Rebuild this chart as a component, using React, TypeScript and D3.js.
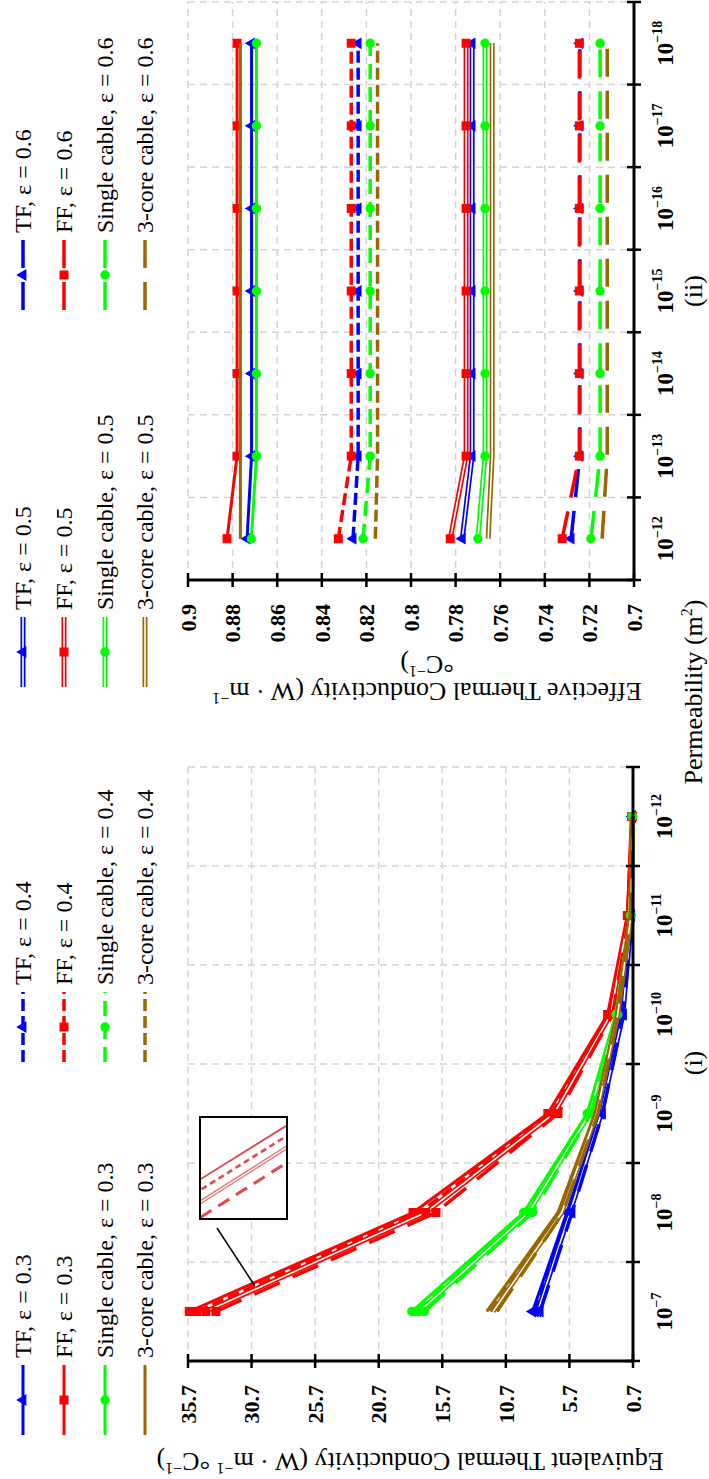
import React from 'react';
import * as d3 from 'd3';

// page is portrait; the figure itself is drawn landscape (1479 x 709) and turned 90° anticlockwise
const PAGE_W = 709;
const PAGE_H = 1479;

const epsilons = [0.3, 0.4, 0.5, 0.6];
const cableTypes = ['TF', 'FF', 'Single cable', '3-core cable'];
const cableColors = ['#0000ff', '#ff0000', '#00ff00', '#996600'];
const cableMarkers = ['triangle', 'square', 'circle', 'none'];

// permeability categories (exponent of 10, m^2)
const equivExponents = [-7, -8, -9, -10, -11, -12];
const effExponents = [-12, -13, -14, -15, -16, -17, -18];

const equivTicks = [0.7, 5.7, 10.7, 15.7, 20.7, 25.7, 30.7, 35.7];
const effTicks = [0.7, 0.72, 0.74, 0.76, 0.78, 0.8, 0.82, 0.84, 0.86, 0.88, 0.9];

// (i) equivalent thermal conductivity, one row per epsilon 0.3 .. 0.6
const tfEquiv = [
  [8.6, 5.9, 3.3, 1.6, 0.85, 0.75],
  [8.4, 5.8, 3.25, 1.55, 0.83, 0.74],
  [8.2, 5.65, 3.2, 1.5, 0.81, 0.73],
  [8.0, 5.5, 3.1, 1.45, 0.8, 0.72],
];
const ffEquiv = [
  [35.6, 18.0, 7.4, 2.7, 1.15, 0.78],
  [35.0, 17.5, 7.1, 2.55, 1.1, 0.77],
  [34.3, 17.0, 6.9, 2.45, 1.05, 0.76],
  [33.5, 16.2, 6.6, 2.3, 1.0, 0.75],
];
const singleEquiv = [
  [18.1, 9.3, 4.3, 2.05, 0.9, 0.76],
  [17.8, 9.1, 4.2, 2.0, 0.88, 0.75],
  [17.5, 8.9, 4.1, 1.95, 0.86, 0.74],
  [17.1, 8.6, 4.0, 1.9, 0.84, 0.73],
];
const threeCoreEquiv = [
  [12.2, 6.6, 3.7, 2.0, 0.9, 0.75],
  [11.9, 6.5, 3.6, 1.95, 0.88, 0.74],
  [11.7, 6.3, 3.55, 1.9, 0.86, 0.73],
  [11.4, 6.2, 3.45, 1.85, 0.84, 0.72],
];

// (ii) effective thermal conductivity, one row per epsilon 0.3 .. 0.6
const tfEff = [
  [0.8735, 0.8715, 0.8715, 0.8715, 0.8715, 0.8715, 0.8715],
  [0.826, 0.8237, 0.8237, 0.8237, 0.8237, 0.8237, 0.8237],
  [0.777, 0.7726, 0.7726, 0.7726, 0.7726, 0.7726, 0.7726],
  [0.7282, 0.7243, 0.7243, 0.7243, 0.7243, 0.7243, 0.7243],
];
const ffEff = [
  [0.8825, 0.878, 0.878, 0.878, 0.878, 0.878, 0.878],
  [0.8326, 0.8268, 0.8268, 0.8268, 0.8268, 0.8268, 0.8268],
  [0.7824, 0.7753, 0.7753, 0.7753, 0.7753, 0.7753, 0.7753],
  [0.7322, 0.7245, 0.7245, 0.7245, 0.7245, 0.7245, 0.7245],
];
const singleEff = [
  [0.8716, 0.8693, 0.8693, 0.8693, 0.8693, 0.8693, 0.8693],
  [0.8215, 0.8183, 0.8183, 0.8183, 0.8183, 0.8183, 0.8183],
  [0.770, 0.7668, 0.7668, 0.7668, 0.7668, 0.7668, 0.7668],
  [0.7193, 0.7152, 0.7152, 0.7152, 0.7152, 0.7152, 0.7152],
];
const threeCoreEff = [
  [0.8765, 0.8765, 0.8765, 0.8765, 0.8765, 0.8765, 0.8765],
  [0.816, 0.815, 0.815, 0.815, 0.815, 0.815, 0.815],
  [0.7654, 0.7636, 0.7636, 0.7636, 0.7636, 0.7636, 0.7636],
  [0.7143, 0.712, 0.712, 0.712, 0.712, 0.712, 0.712],
];

const FONT = "'Liberation Serif', 'Times New Roman', serif";
const GRID = '#d4d4d4';

// line look per epsilon: solid, short dash, double line, long dash
const epsStyles = [
  { width: 3, dash: '', double: false },
  { width: 3.5, dash: '12,5', double: false },
  { width: 5, dash: '', double: true },
  { width: 3.5, dash: '28,14', double: false },
];

function dashFor(ti: number, ei: number) {
  if (ei === 1 && ti === 2) return '15,8'; // green dashes are a bit longer
  return epsStyles[ei].dash;
}

function StyledPath({ d, color, ti, ei }: any) {
  const s = epsStyles[ei];
  if (s.double) {
    return (
      <g>
        <path d={d} fill="none" stroke={color} strokeWidth={s.width} strokeLinejoin="round" />
        <path d={d} fill="none" stroke="#fff" strokeWidth={1.6} strokeLinejoin="round" />
      </g>
    );
  }
  const dash = dashFor(ti, ei);
  return (
    <path d={d} fill="none" stroke={color} strokeWidth={s.width}
      strokeDasharray={dash || undefined} strokeLinejoin="round" />
  );
}

function Marker({ type, x, y, color }: any) {
  if (type === 'none') return null;
  const sym = type === 'triangle' ? d3.symbolTriangle : type === 'square' ? d3.symbolSquare : d3.symbolCircle;
  const size = type === 'triangle' ? 60 : type === 'square' ? 81 : 70;
  return <path d={d3.symbol(sym, size)() as string} transform={`translate(${x},${y})`} fill={color} />;
}

function Legend() {
  const cols = [44, 417, 792, 1169];
  const rows = [23, 64, 105, 145];
  const len = 70;
  return (
    <g>
      {epsilons.map((eps, ei) =>
        cableTypes.map((name, ti) => {
          const x0 = cols[ei];
          const y0 = rows[ti];
          const d = d3.line()([[x0, y0], [x0 + len, y0]]) as string;
          return (
            <g key={`${ei}-${ti}`}>
              <StyledPath d={d} color={cableColors[ti]} ti={ti} ei={ei} />
              <Marker type={cableMarkers[ti]} x={x0 + len / 2} y={y0} color={cableColors[ti]} />
              <text x={x0 + 77} y={y0 + 8} fontSize={24}>{`${name}, ε = ${eps}`}</text>
            </g>
          );
        })
      )}
    </g>
  );
}

function Panel({ exps, ticks, dataSets, left, right, top, bottom, children }: any) {
  const x = d3.scaleBand<number>().domain(exps).range([left, right]).padding(0);
  const y = d3.scaleLinear().domain([ticks[0], ticks[ticks.length - 1]]).range([bottom, top]);
  const px = (i: number) => (x(exps[i]) as number) + x.bandwidth() / 2;
  const line = d3.line<number>().x((_, i) => px(i)).y(v => y(v));
  const edges = exps.map((e: number) => x(e) as number).concat([right]);
  const fmt = (t: number) => String(+t.toFixed(2));

  return (
    <g>
      {ticks.slice(1).map((t: number) => (
        <line key={`gh${t}`} x1={left} x2={right} y1={y(t)} y2={y(t)}
          stroke={GRID} strokeWidth={1.5} strokeDasharray="7,5" />
      ))}
      {edges.slice(1).map((e: number) => (
        <line key={`gv${e}`} x1={e} x2={e} y1={top} y2={bottom}
          stroke={GRID} strokeWidth={1.5} strokeDasharray="7,5" />
      ))}

      {dataSets.map((rowsForType: number[][], ti: number) =>
        rowsForType.map((vals, ei) => (
          <g key={`s${ti}-${ei}`}>
            <StyledPath d={line(vals)} color={cableColors[ti]} ti={ti} ei={ei} />
            {vals.map((v, i) => (
              <Marker key={i} type={cableMarkers[ti]} x={px(i)} y={y(v)} color={cableColors[ti]} />
            ))}
          </g>
        ))
      )}

      {children && children({ x, y, px })}

      {/* axes */}
      <line x1={left} x2={right} y1={bottom} y2={bottom} stroke="#000" strokeWidth={3} />
      <line x1={left} x2={left} y1={top} y2={bottom} stroke="#000" strokeWidth={3} />
      {edges.map((e: number) => (
        <line key={`tx${e}`} x1={e} x2={e} y1={bottom - 7} y2={bottom + 7} stroke="#000" strokeWidth={2.5} />
      ))}
      {ticks.map((t: number) => (
        <line key={`ty${t}`} x1={left - 7} x2={left + 7} y1={y(t)} y2={y(t)} stroke="#000" strokeWidth={2.5} />
      ))}
      {ticks.map((t: number) => (
        <text key={`ly${t}`} x={left - 24} y={y(t)} dy="0.35em" textAnchor="end"
          fontWeight="bold" fontSize={22}>{fmt(t)}</text>
      ))}
      {exps.map((e: number, i: number) => (
        <text key={`lx${e}`} x={px(i)} y={bottom + 39} textAnchor="middle" fontWeight="bold" fontSize={23}>
          10<tspan dy={-11} fontSize={14}>{`−${-e}`}</tspan>
        </text>
      ))}
    </g>
  );
}

// magnified view of the FF lines between 1e-7 and 1e-8
function Inset({ x, y, px }: any) {
  const box = { x0: 260, x1: 362, y0: 200, y1: 287 };
  const xi = d3.scaleLinear().domain([0.2, 0.51]).range([box.x0, box.x1]);
  const yi = d3.scaleLinear().domain([27.07, 29.97]).range([box.y1, box.y0]);
  const col = '#e04a4c';
  const seg = (vals: number[]) =>
    d3.line<number>().x((_, i) => xi(i)).y(v => yi(v))([vals[0], vals[1]]) as string;
  const looks = [
    { w: 1.8, dash: '' },
    { w: 2.6, dash: '6,4' },
    { w: 4, dash: '', double: true },
    { w: 3, dash: '13,8' },
  ];
  const bw = x.bandwidth();
  const tPick = 0.26;
  const target = ffEquiv[1][0] + (ffEquiv[1][1] - ffEquiv[1][0]) * tPick;
  return (
    <g>
      <defs>
        <clipPath id="insetClip">
          <rect x={box.x0} y={box.y0} width={box.x1 - box.x0} height={box.y1 - box.y0} />
        </clipPath>
      </defs>
      <rect x={box.x0} y={box.y0} width={box.x1 - box.x0} height={box.y1 - box.y0} fill="#fff" />
      <g clipPath="url(#insetClip)">
        {ffEquiv.map((vals, ei) => {
          const l = looks[ei];
          const d = seg(vals);
          if (l.double) {
            return (
              <g key={ei}>
                <path d={d} fill="none" stroke={col} strokeWidth={l.w} opacity={0.75} />
                <path d={d} fill="none" stroke="#fff" strokeWidth={1.3} />
              </g>
            );
          }
          return <path key={ei} d={d} fill="none" stroke={col} strokeWidth={l.w} strokeDasharray={l.dash || undefined} />;
        })}
      </g>
      <rect x={box.x0} y={box.y0} width={box.x1 - box.x0} height={box.y1 - box.y0}
        fill="none" stroke="#000" strokeWidth={2} />
      <line x1={box.x0 - 9} y1={box.y0 + 17} x2={px(0) + bw * tPick} y2={y(target)}
        stroke="#000" strokeWidth={1.5} />
    </g>
  );
}

function SupLabel({ parts }: { parts: [string, boolean][] }) {
  let raised = false;
  return (
    <>
      {parts.map(([s, sup], i) => {
        let dy = 0;
        if (sup && !raised) { dy = -10; raised = true; }
        else if (!sup && raised) { dy = 10; raised = false; }
        return (
          <tspan key={i} dy={dy || undefined} fontSize={sup ? 16 : undefined}>{s}</tspan>
        );
      })}
    </>
  );
}

export default function App() {
  const equivSets = [tfEquiv, ffEquiv, singleEquiv, threeCoreEquiv];
  const effSets = [tfEff, ffEff, singleEff, threeCoreEff];
  return (
    <svg width={PAGE_W} height={PAGE_H} style={{ position: 'absolute', left: 0, top: 0, background: '#fff' }}
      fontFamily={FONT}>
      <g transform={`translate(0,${PAGE_H}) rotate(-90)`}>
        <Legend />

        <Panel exps={equivExponents} ticks={equivTicks} dataSets={equivSets}
          left={118} right={712} top={188} bottom={633}>
          {(s: any) => <Inset {...s} />}
        </Panel>
        <Panel exps={effExponents} ticks={effTicks} dataSets={effSets}
          left={899} right={1477} top={188} bottom={634} />

        <text transform="translate(26,410) rotate(-90)" textAnchor="middle" fontSize={26}>
          <SupLabel parts={[['Equivalent Thermal Conductivity (W · m', false], ['−1', true], [' °C', false], ['−1', true], [')', false]]} />
        </text>
        <text transform="translate(796,427) rotate(-90)" textAnchor="middle" fontSize={26}>
          <SupLabel parts={[['Effective Thermal Conductivity (W · m', false], ['−1', true]]} />
        </text>
        <text transform="translate(823,427) rotate(-90)" textAnchor="middle" fontSize={26}>
          <SupLabel parts={[['°C', false], ['−1', true], [')', false]]} />
        </text>

        <text x={416} y={702} textAnchor="middle" fontSize={26}>(i)</text>
        <text x={1188} y={702} textAnchor="middle" fontSize={26}>(ii)</text>
        <text x={787} y={702} textAnchor="middle" fontSize={26}>
          Permeability (m<tspan dy={-10} fontSize={16}>2</tspan><tspan dy={10}>)</tspan>
        </text>
      </g>
    </svg>
  );
}
